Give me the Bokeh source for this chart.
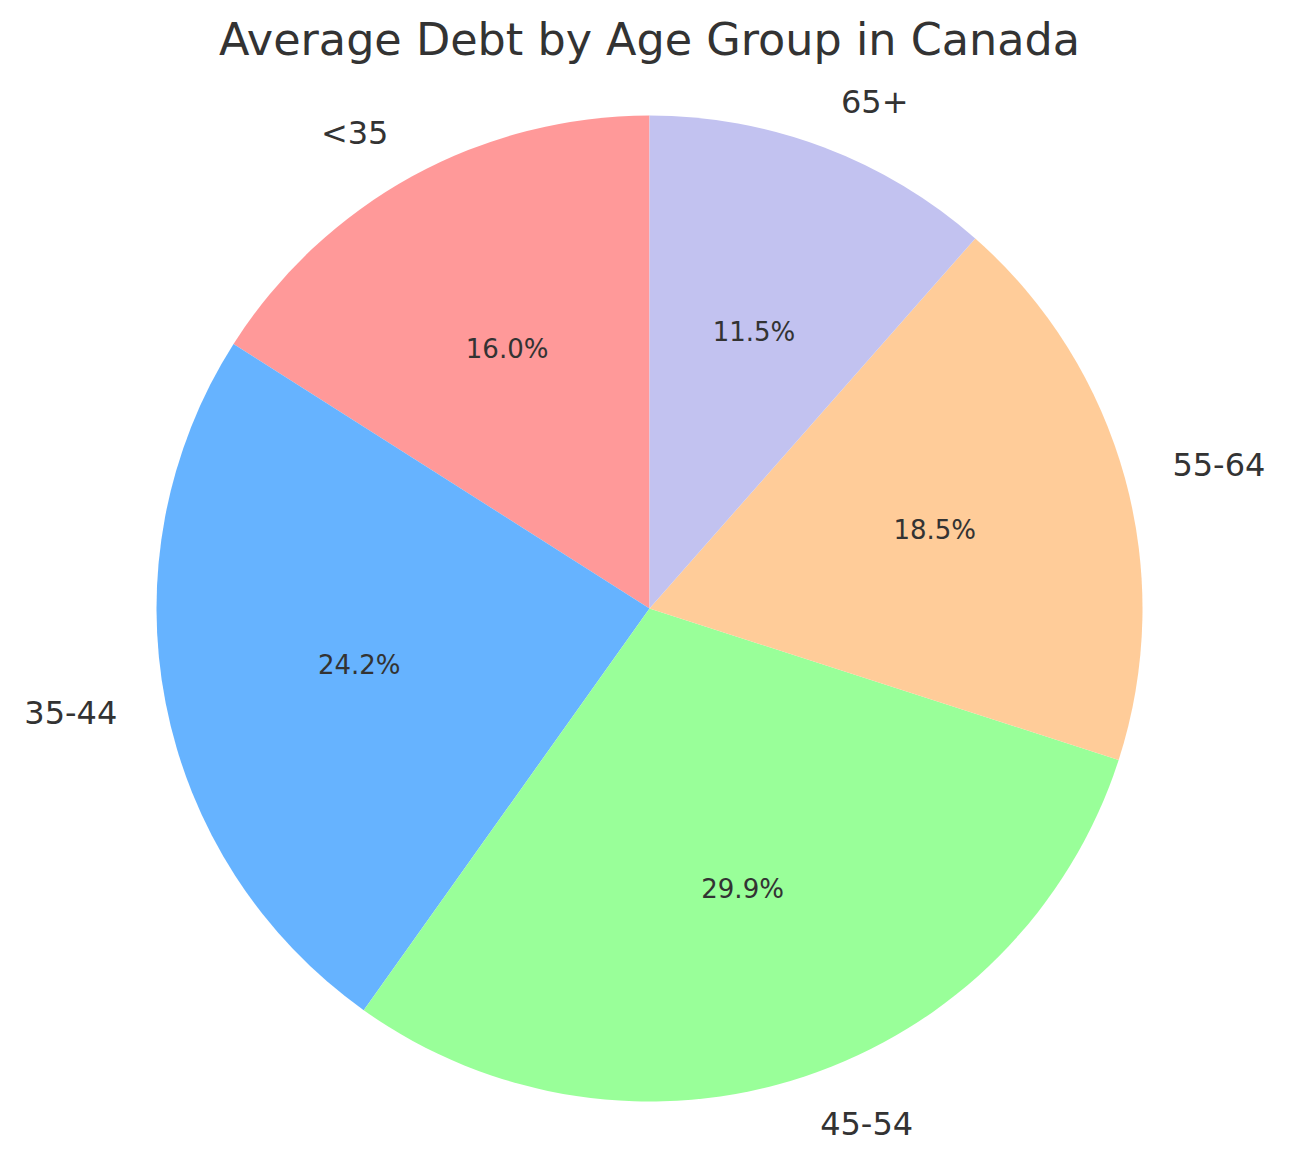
import numpy as np
from bokeh.plotting import figure
from bokeh.models import Range1d, ColumnDataSource
from bokeh.core.properties import value
from bokeh.embed import file_html
from bokeh.resources import INLINE

# Data
age_groups = ["<35", "35-44", "45-54", "55-64", "65+"]
debt_share = [16.0, 24.2, 29.9, 18.5, 11.5]
colors = ["#ff9999", "#66b3ff", "#99ff99", "#ffcc99", "#c2c2f0"]
title_text = "Average Debt by Age Group in Canada"

W, H = 1273, 1152
R = 493.0
cx, cy = 649.0, 608.0  # canvas pixel position of pie centre

p = figure(width=W, height=H, output_backend="svg", toolbar_location=None,
           x_range=Range1d(-cx / R, (W - cx) / R),
           y_range=Range1d(-(H - cy) / R, cy / R),
           min_border=0)
p.axis.visible = False
p.grid.visible = False
p.outline_line_color = None
p.background_fill_color = "white"
p.border_fill_color = "white"

vals = np.array(debt_share, dtype=float)
frac = vals / vals.sum()
starts = np.pi / 2 + 2 * np.pi * np.concatenate([[0], np.cumsum(frac)[:-1]])
ends = starts + 2 * np.pi * frac
mids = (starts + ends) / 2

src = ColumnDataSource(dict(start=starts, end=ends, color=colors))
p.wedge(x=0, y=0, radius=1.0, start_angle="start", end_angle="end",
        direction="anticlock", fill_color="color", line_color=None, source=src)

font = value("DejaVu Sans")
txt_color = "#333333"

# Category labels
lx = 1.1 * np.cos(mids)
ly = 1.1 * np.sin(mids)
for x, y, lab in zip(lx, ly, age_groups):
    p.text(x=[x], y=[y], text=[lab], text_font=font, text_font_size="32px",
           text_color=txt_color, text_baseline="middle",
           text_align="left" if x > 0 else "right")

# Percentage labels
px_ = 0.6 * np.cos(mids)
py_ = 0.6 * np.sin(mids)
pct = ["%.1f%%" % (f * 100) for f in frac]
p.text(x=list(px_), y=list(py_), text=pct, text_font=font, text_font_size="26px",
       text_color=txt_color, text_baseline="middle", text_align="center")

# Title
p.text(x=[(649 - cx) / R], y=[(cy - 39) / R], text=[title_text],
       text_font=font, text_font_size="44.5px", text_color=txt_color,
       text_baseline="alphabetic", text_align="center")

open("out.html", "w").write(file_html(p, INLINE))
